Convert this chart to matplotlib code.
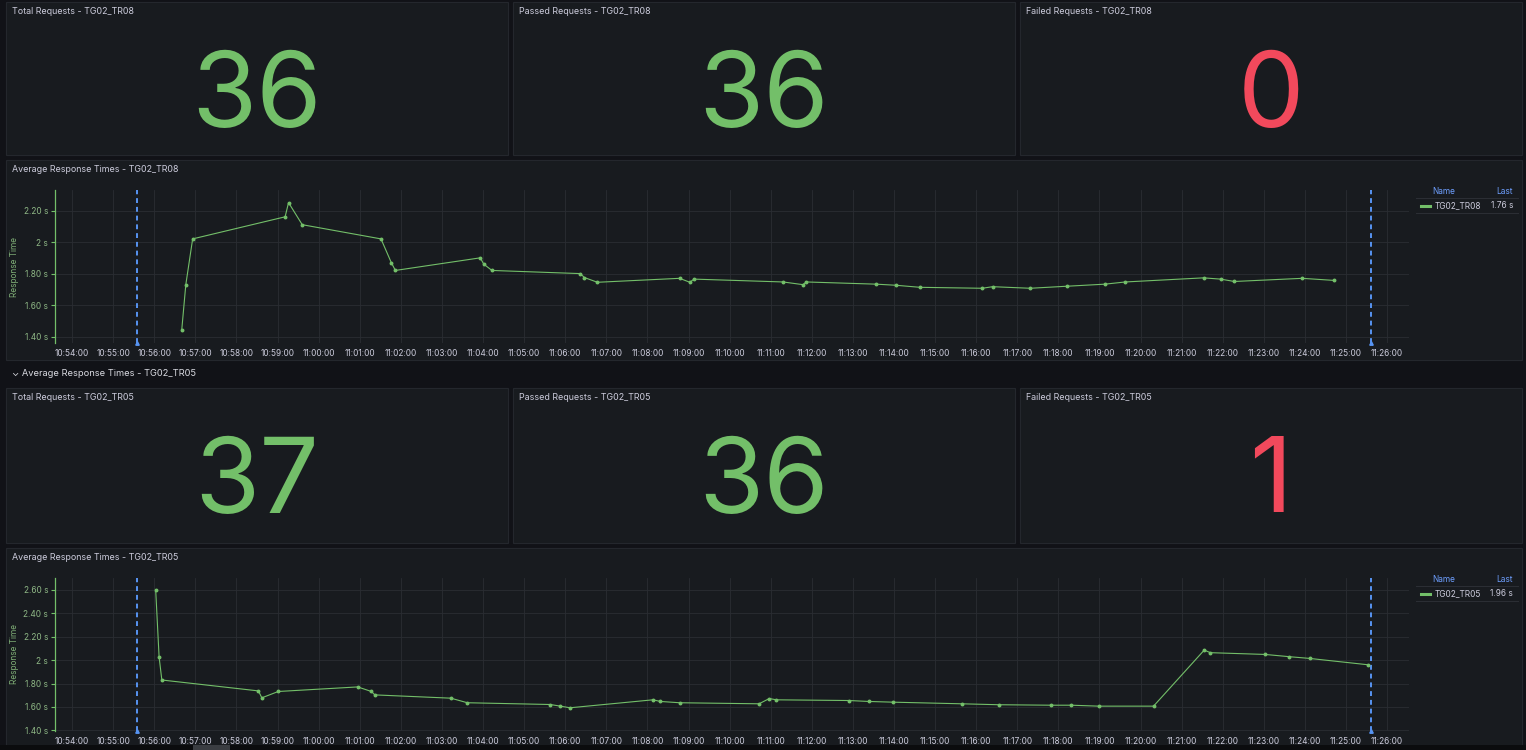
import pandas as pd
import matplotlib.pyplot as plt
import matplotlib.dates as mdates
from matplotlib.patches import Rectangle
from matplotlib.ticker import FuncFormatter

plt.rcParams["font.family"] = ["Inter", "DejaVu Sans"]

# stat panels
stat_titles_tr08 = ["Total Requests - TG02_TR08", "Passed Requests - TG02_TR08", "Failed Requests - TG02_TR08"]
stat_values_tr08 = [36, 36, 0]
stat_titles_tr05 = ["Total Requests - TG02_TR05", "Passed Requests - TG02_TR05", "Failed Requests - TG02_TR05"]
stat_values_tr05 = [37, 36, 1]

# response times TG02_TR08
tr08_times = ["10:56:40", "10:56:46", "10:56:56", "10:59:11", "10:59:16", "10:59:36", "11:01:31",
              "11:01:46", "11:01:52", "11:03:56", "11:04:01", "11:04:13", "11:06:22", "11:06:28",
              "11:06:47", "11:08:47", "11:09:02", "11:09:08", "11:11:18", "11:11:47", "11:11:52",
              "11:13:34", "11:14:03", "11:14:38", "11:16:09", "11:16:24", "11:17:19", "11:18:13",
              "11:19:08", "11:19:38", "11:21:32", "11:21:57", "11:22:17", "11:23:56", "11:24:42"]
tr08_values = [1.44, 1.73, 2.02, 2.16, 2.25, 2.11, 2.02, 1.87, 1.82, 1.90, 1.86, 1.82, 1.80, 1.775,
               1.745, 1.77, 1.745, 1.765, 1.747, 1.73, 1.747, 1.733, 1.726, 1.713, 1.707, 1.717,
               1.707, 1.72, 1.733, 1.747, 1.773, 1.765, 1.75, 1.77, 1.757]

# response times TG02_TR05
tr05_times = ["10:56:02", "10:56:07", "10:56:11", "10:58:32", "10:58:37", "10:59:01", "11:00:57",
              "11:01:17", "11:01:22", "11:03:13", "11:03:37", "11:05:38", "11:05:53", "11:06:07",
              "11:08:08", "11:08:19", "11:08:47", "11:10:43", "11:10:58", "11:11:08", "11:12:54",
              "11:13:23", "11:13:58", "11:15:39", "11:16:33", "11:17:49", "11:18:19", "11:18:59",
              "11:20:19", "11:21:33", "11:21:42", "11:23:02", "11:23:37", "11:24:07", "11:25:32"]
tr05_values = [2.60, 2.026, 1.83, 1.737, 1.678, 1.732, 1.771, 1.732, 1.703, 1.675, 1.636, 1.621,
               1.607, 1.593, 1.661, 1.647, 1.636, 1.627, 1.672, 1.661, 1.655, 1.647, 1.641, 1.627,
               1.619, 1.615, 1.615, 1.607, 1.607, 2.085, 2.063, 2.048, 2.029, 2.014, 1.96]

# annotation markers (test start / end)
annotation_times = ["10:55:35", "11:25:37"]

W, H = 1526, 750
BG = "#111217"
PANEL = "#181b1f"
BORDER = "#24272d"
GREEN = "#73bf69"
RED = "#f2495c"
BLUE = "#5794f2"
TEXT = "#ccccdc"


def to_dt(times):
    return pd.to_datetime(["2024-01-01 " + t for t in times])


fig = plt.figure(figsize=(W / 100, H / 100), dpi=100, facecolor=BG)


def panel(x0, y0, x1, y1, title=None):
    fig.patches.append(Rectangle((x0 / W, 1 - y1 / H), (x1 - x0) / W, (y1 - y0) / H,
                                 transform=fig.transFigure, facecolor=PANEL,
                                 edgecolor=BORDER, linewidth=0.8, zorder=-2))
    if title:
        fig.text((x0 + 6) / W, 1 - (y0 + 9) / H, title, color=TEXT, fontsize=6.4,
                 va="center", ha="left")


def stat_row(y0, y1, titles, values):
    xs = [(6, 508), (513, 1015), (1020, 1522)]
    for (x0, x1), title, val in zip(xs, titles, values):
        panel(x0, y0, x1, y1, title)
        color = RED if "Failed" in title else GREEN
        fig.text((x0 + x1) / 2 / W, 1 - (y0 + 97) / H, str(val), color=color,
                 fontsize=76, ha="center", va="center")


def chart(y0, y1, title, times, values, ylim, yticks, plot_top, plot_bottom, series, last):
    panel(6, y0, 1522, y1, title)
    ax = fig.add_axes([55 / W, 1 - plot_bottom / H, (1409 - 55) / W, (plot_bottom - plot_top) / H])
    ax.set_facecolor(PANEL)
    t = to_dt(times)
    ax.plot(t, values, color=GREEN, linewidth=0.8, marker="o", markersize=1.8, zorder=3)
    for a in to_dt(annotation_times):
        ax.axvline(a, color=BLUE, linestyle=(0, (2.5, 2)), linewidth=1.4, zorder=2)
        ax.plot([a], [ylim[0]], marker="^", color=BLUE, markersize=2.5, clip_on=False, zorder=4)
    ax.set_xlim(pd.Timestamp("2024-01-01 10:53:35"), pd.Timestamp("2024-01-01 11:26:32"))
    ax.set_ylim(*ylim)
    ax.set_yticks(yticks)
    ax.yaxis.set_major_formatter(FuncFormatter(
        lambda v, p: f"{v:.0f} s" if abs(v - round(v)) < 1e-6 else f"{v:.2f} s"))
    ax.xaxis.set_major_locator(mdates.MinuteLocator(interval=1))
    ax.xaxis.set_major_formatter(mdates.DateFormatter("%H:%M:%S"))
    ax.grid(True, color="#2a2d33", linewidth=0.6)
    ax.set_axisbelow(True)
    for s in ["top", "right", "bottom"]:
        ax.spines[s].set_visible(False)
    ax.spines["left"].set_color(GREEN)
    ax.spines["left"].set_linewidth(0.9)
    ax.tick_params(axis="x", length=0, colors=TEXT, labelsize=6, pad=4)
    ax.tick_params(axis="y", length=3, colors=GREEN, labelcolor="#8fb886", labelsize=6, pad=2)
    ax.set_ylabel("Response Time", color="#7fae76", fontsize=6)
    ax.yaxis.set_label_coords((19 - 55) / (1409 - 55), 0.5)

    # legend table on the right
    ly = y0 + 31
    fig.text(1444 / W, 1 - ly / H, "Name", color="#6e9fff", fontsize=6, ha="center", va="center")
    fig.text(1513 / W, 1 - ly / H, "Last", color="#6e9fff", fontsize=6, ha="right", va="center")
    for yy in (y0 + 38, y0 + 53):
        fig.add_artist(plt.Line2D([1416 / W, 1518 / W], [1 - yy / H, 1 - yy / H],
                                  color="#2c2f35", linewidth=0.7))
    ry = y0 + 46
    fig.add_artist(plt.Line2D([1421 / W, 1430 / W], [1 - ry / H, 1 - ry / H],
                              color=GREEN, linewidth=2.2))
    fig.text(1435 / W, 1 - ry / H, series, color=TEXT, fontsize=6, ha="left", va="center")
    fig.text(1513 / W, 1 - ry / H, last, color=TEXT, fontsize=6, ha="right", va="center")


stat_row(2, 155, stat_titles_tr08, stat_values_tr08)
chart(160, 360, "Average Response Times - TG02_TR08", tr08_times, tr08_values,
      (1.36, 2.33), [1.4, 1.6, 1.8, 2.0, 2.2], 190, 343, "TG02_TR08", "1.76 s")

fig.text(12 / W, 1 - 374 / H, "\u2304 Average Response Times - TG02_TR05", color="#d8d9e0",
         fontsize=6.7, ha="left", va="center")

stat_row(388, 543, stat_titles_tr05, stat_values_tr05)
chart(548, 760, "Average Response Times - TG02_TR05", tr05_times, tr05_values,
      (1.395, 2.70), [1.4, 1.6, 1.8, 2.0, 2.2, 2.4, 2.6], 578, 731, "TG02_TR05", "1.96 s")

# scrollbar at bottom edge
fig.patches.append(Rectangle((0, 0), 1, 5 / H, transform=fig.transFigure,
                             facecolor="#0b0c0e", edgecolor="none", zorder=5))
fig.patches.append(Rectangle((193 / W, 0), 37 / W, 5 / H, transform=fig.transFigure,
                             facecolor="#3a3d42", edgecolor="none", zorder=6))

plt.savefig("out.png", dpi=100, facecolor=BG)
